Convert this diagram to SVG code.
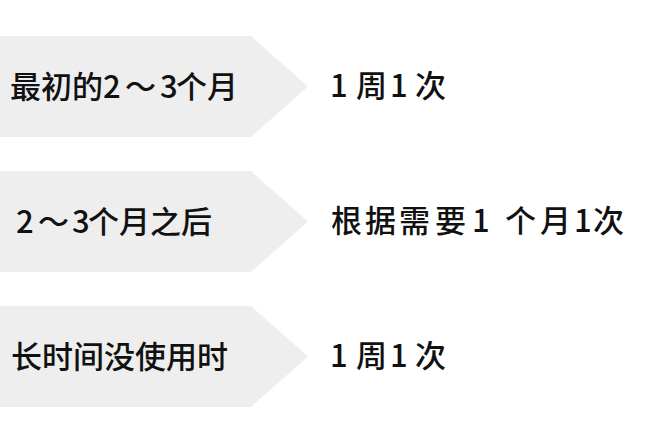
<svg xmlns="http://www.w3.org/2000/svg" width="665" height="442" viewBox="0 0 665 442">
<style>
.box{fill:#eeeeee}
.t{font-family:"Noto Sans CJK SC","Noto Sans",sans-serif;font-size:31px;font-weight:500;fill:#111111}
</style>
<rect width="665" height="442" fill="#ffffff"/>
<g id="node1">
<polygon class="box" points="0,36 251,36 308,86.5 251,137 0,137"/>
<text class="t" y="98"><tspan x="10">最初的</tspan><tspan x="103">2</tspan><tspan x="125">～</tspan><tspan x="160">3</tspan><tspan x="176">个月</tspan></text>
<text class="t" y="97"><tspan x="330">1</tspan><tspan x="356">周</tspan><tspan x="390">1</tspan><tspan x="415">次</tspan></text>
</g>
<g id="node2">
<polygon class="box" points="0,171 251,171 308,221.5 251,272 0,272"/>
<text class="t" y="233"><tspan x="16">2</tspan><tspan x="38">～</tspan><tspan x="72">3</tspan><tspan x="88">个月之后</tspan></text>
<text class="t" y="232"><tspan x="331">根</tspan><tspan x="365">据</tspan><tspan x="399">需</tspan><tspan x="435">要</tspan><tspan x="472">1</tspan><tspan x="505">个</tspan><tspan x="540">月</tspan><tspan x="574">1</tspan><tspan x="593">次</tspan></text>
</g>
<g id="node3">
<polygon class="box" points="0,306 251,306 308,356.5 251,407 0,407"/>
<text class="t" y="368" x="11">长时间没使用时</text>
<text class="t" y="367"><tspan x="330">1</tspan><tspan x="356">周</tspan><tspan x="390">1</tspan><tspan x="415">次</tspan></text>
</g>
<g id="connectors"></g>
</svg>
